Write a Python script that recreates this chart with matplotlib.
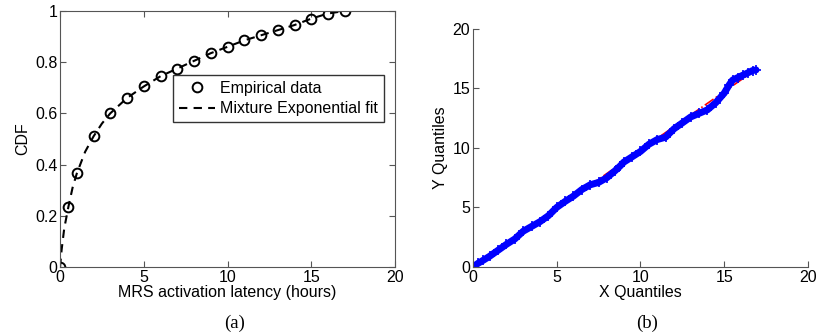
import numpy as np
import matplotlib.pyplot as plt

plt.rcParams['font.family'] = ['Liberation Sans', 'DejaVu Sans']
plt.rcParams['font.size'] = 11.5

# (a) empirical CDF of MRS activation latency
emp_x = [0, 0.5, 1, 2, 3, 4, 5, 6, 7, 8, 9, 10, 11, 12, 13, 14, 15, 16, 17]
emp_y = [0, 0.235, 0.365, 0.51, 0.6, 0.66, 0.705, 0.745, 0.775, 0.805, 0.835,
         0.86, 0.885, 0.905, 0.925, 0.945, 0.97, 0.99, 1.0]

fit_x = [0, 0.1, 0.25, 0.5, 0.75, 1, 1.5, 2, 2.5, 3, 4, 5, 6, 7, 8, 9, 10,
         11, 12, 13, 14, 15, 16, 17]
fit_y = [0, 0.07, 0.15, 0.235, 0.31, 0.365, 0.45, 0.51, 0.56, 0.6, 0.66,
         0.705, 0.745, 0.775, 0.805, 0.835, 0.86, 0.885, 0.905, 0.925,
         0.945, 0.97, 0.99, 1.0]

# (b) Q-Q plot
qq_x = [0, 0.3, 0.6, 1.0, 1.5, 2.0, 2.5, 3.0, 3.5, 4.0, 4.5, 5.0, 5.5, 6.0,
        6.5, 7.0, 7.5, 8.0, 8.5, 8.8, 9.0, 9.5, 10.0, 10.5, 11.0, 11.5, 12.0,
        12.5, 13.0, 13.5, 14.0, 14.5, 15.0, 15.3, 15.5, 15.8, 16.1, 16.4,
        16.7, 16.9]
qq_y = [0, 0.3, 0.55, 0.9, 1.4, 1.9, 2.35, 3.0, 3.4, 3.8, 4.3, 5.0, 5.5, 5.95,
        6.5, 6.9, 7.1, 7.5, 8.1, 8.5, 8.8, 9.25, 9.7, 10.3, 10.7, 10.9, 11.6,
        12.1, 12.6, 12.9, 13.2, 13.8, 14.6, 15.3, 15.7, 15.9, 16.1, 16.3,
        16.5, 16.55]
ref_x = [0.0, 16.5]
ref_y = [0.0, 16.2]

fig = plt.figure(figsize=(8.19, 3.32), dpi=100)
ax1 = fig.add_axes([0.0733, 0.196, 0.409, 0.771])
ax2 = fig.add_axes([0.5775, 0.196, 0.409, 0.717])

spine_c = '#555555'

ax1.plot(emp_x, emp_y, 'o', mfc='none', mec='black', ms=7, mew=1.4,
         label='Empirical data')
ax1.plot(fit_x, fit_y, '--', color='black', lw=1.5, dashes=(4, 3),
         label='Mixture Exponential fit')
ax1.set_xlim(0, 20)
ax1.set_ylim(0, 1)
ax1.set_xticks([0, 5, 10, 15, 20])
ax1.set_yticks([0, 0.2, 0.4, 0.6, 0.8, 1])
ax1.set_yticklabels(['0', '0.2', '0.4', '0.6', '0.8', '1'])
ax1.set_xlabel('MRS activation latency (hours)', labelpad=0)
ax1.set_ylabel('CDF', labelpad=3)
ax1.tick_params(direction='in', top=True, right=True, length=4,
                color=spine_c, pad=2)
for s in ax1.spines.values():
    s.set_color(spine_c)
leg = ax1.legend(loc='upper right', bbox_to_anchor=(0.99, 0.78),
                 fancybox=False, edgecolor='#333333', framealpha=1,
                 handlelength=2.3, borderpad=0.35, labelspacing=0.35,
                 handletextpad=0.3, fontsize=11.5)
leg.get_frame().set_linewidth(1.0)

ax2.plot(ref_x, ref_y, '-.', color='red', lw=1.2)
ax2.plot(qq_x, qq_y, '-', color='blue', lw=5, solid_capstyle='round')
ax2.plot(qq_x, qq_y, '+', color='blue', ms=7, mew=1.2)
ax2.set_xlim(0, 20)
ax2.set_ylim(0, 20)
ax2.set_xticks([0, 5, 10, 15, 20])
ax2.set_yticks([0, 5, 10, 15, 20])
ax2.set_xlabel('X Quantiles', labelpad=0)
ax2.set_ylabel('Y Quantiles', labelpad=3)
ax2.tick_params(direction='in', length=4, color=spine_c, pad=2)
ax2.spines['top'].set_visible(False)
ax2.spines['right'].set_visible(False)
for s in ax2.spines.values():
    s.set_color(spine_c)

fig.text(0.287, 0.012, '(a)', family='Liberation Serif', fontsize=13.5,
         ha='center')
fig.text(0.79, 0.012, '(b)', family='Liberation Serif', fontsize=13.5,
         ha='center')

plt.savefig('out.png', dpi=100)
